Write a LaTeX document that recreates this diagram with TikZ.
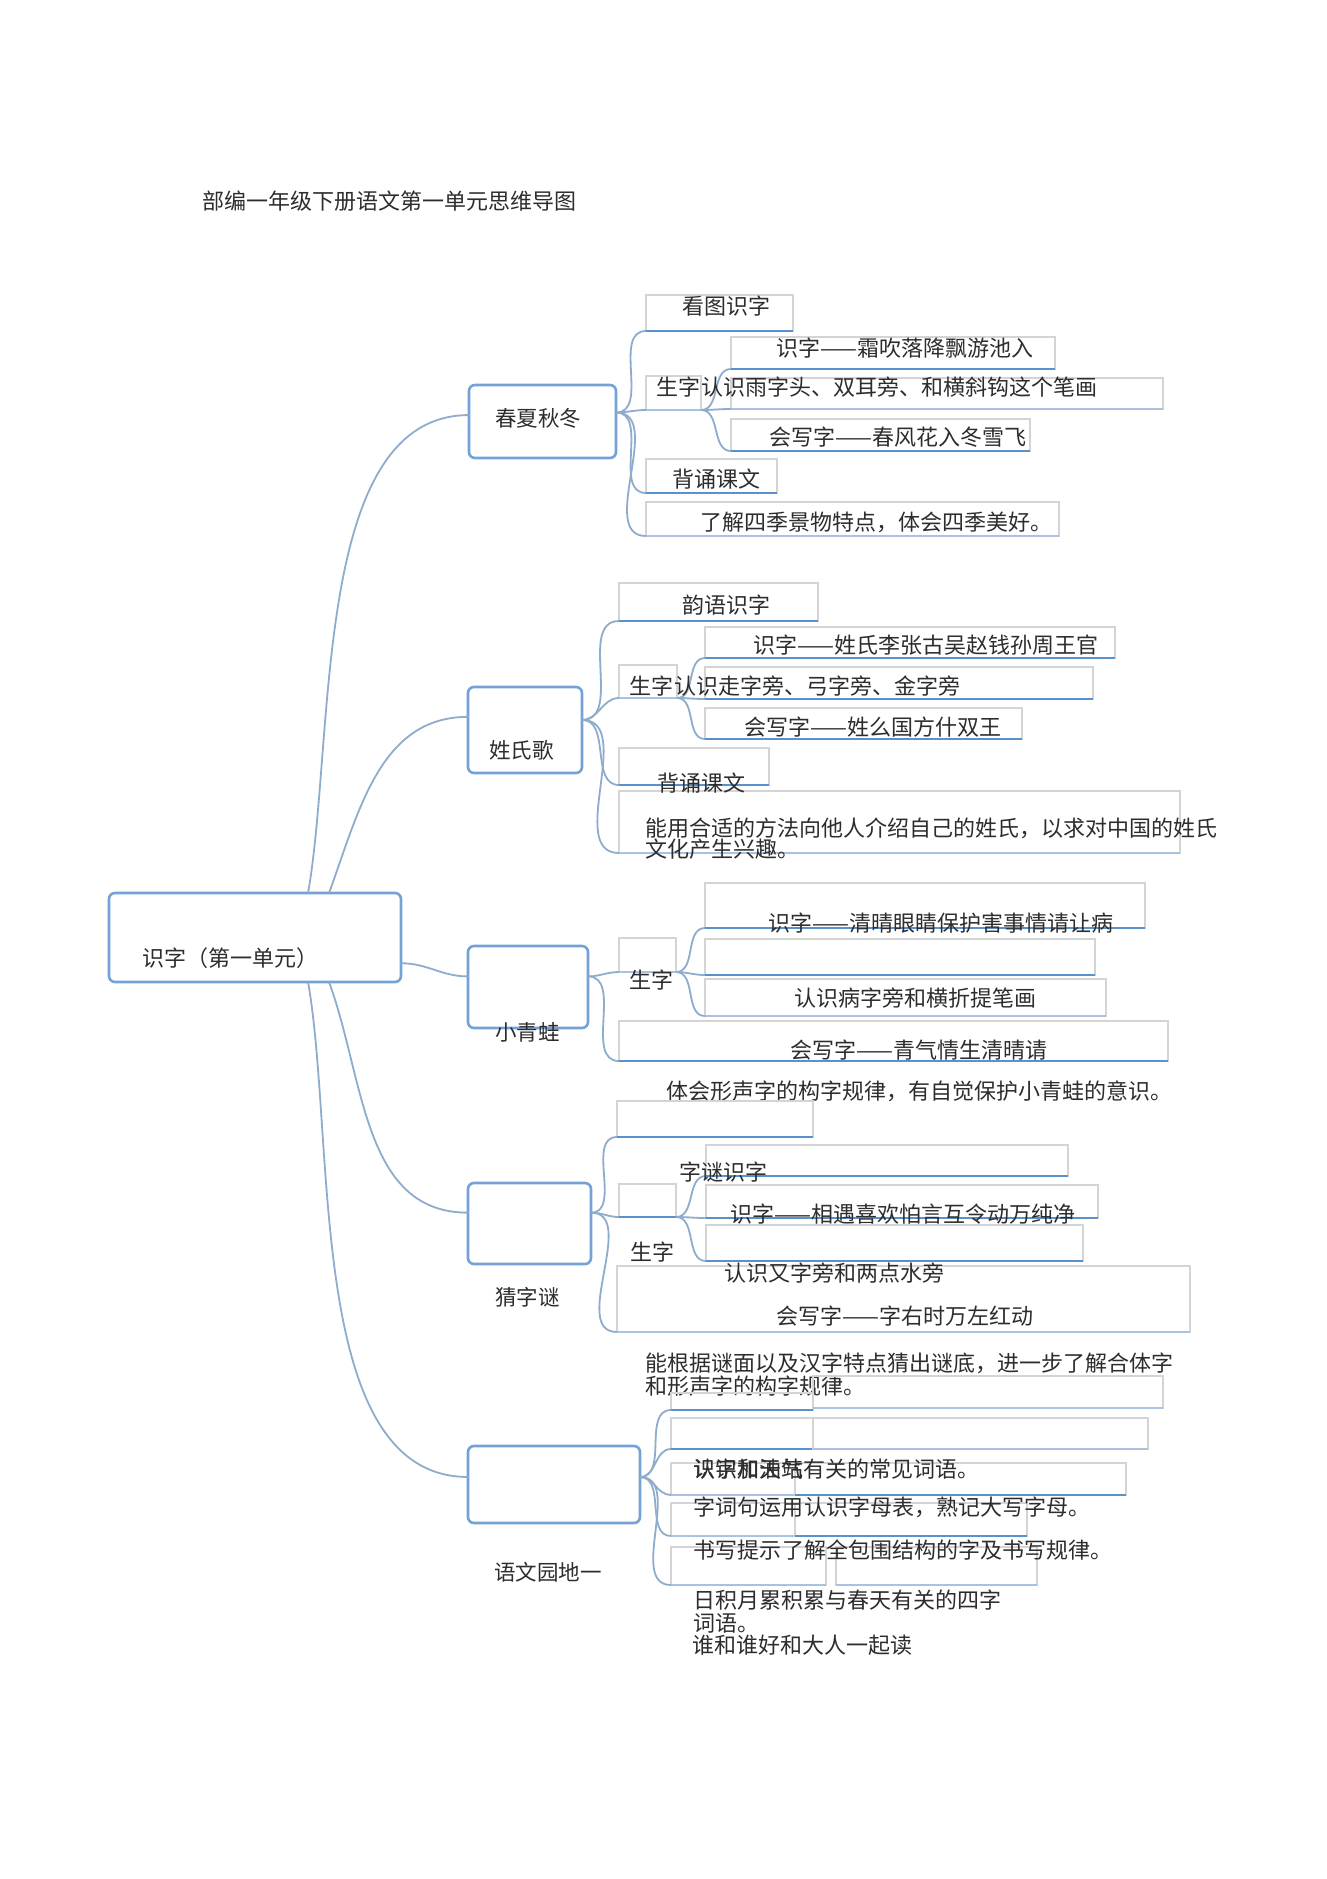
\documentclass[tikz,border=0pt]{standalone}
\usepackage{fontspec}
\setmainfont{Noto Sans CJK SC}
\usetikzlibrary{positioning}
\definecolor{boxblue}{RGB}{116,162,214}
\definecolor{leafblue}{RGB}{88,145,204}
\definecolor{paleblue}{RGB}{168,195,226}
\definecolor{linkblue}{RGB}{142,172,204}
\definecolor{boxgray}{RGB}{212,212,212}
\definecolor{txtgray}{RGB}{45,45,45}
\tikzset{
  hub/.style={draw=boxblue, line width=1.3pt, rounded corners=3pt, inner sep=0pt, outer sep=0pt, anchor=north west},
  leaf/.style={draw=boxgray, line width=0.6pt, inner sep=0pt, outer sep=0pt, anchor=north west,
    append after command={(\tikzlastnode.south west) edge[#1] (\tikzlastnode.south east)}},
  leaf/.default=deepline,
  deepline/.style={draw=leafblue, line width=1.4pt},
  paleline/.style={draw=paleblue, line width=0.8pt},
  link/.style={draw=linkblue, line width=0.9pt},
  lbl/.style={inner sep=0pt, anchor=west, text=txtgray, align=left},
  txtA/.style={lbl, font=\fontsize{11}{10.5}\selectfont},
  txtE/.style={lbl, font=\fontsize{11}{10}\selectfont},
  txtD/.style={lbl, font=\fontsize{11}{11.5}\selectfont},
  hubtxt/.style={lbl, font=\fontsize{10.75}{11}\selectfont},
}
\begin{document}
\begin{tikzpicture}[x=0.5pt, y=-0.5pt]
  \def\hubat#1#2#3#4#5{\node[hub, minimum width={(#4-#2)*0.5pt}, minimum height={(#5-#3)*0.5pt}] (#1) at (#2,#3) {};}
  \def\leafat#1#2#3#4#5#6{\node[leaf=#1, minimum width={(#5-#3)*0.5pt}, minimum height={(#6-#4)*0.5pt}] (#2) at (#3,#4) {};}

  \fill[white] (0,0) rectangle (1327,1879);
  \useasboundingbox (0,0) rectangle (1327,1879);

  \node[lbl, font=\fontsize{11}{12}\selectfont] (title) at (202,201) {部编一年级下册语文第一单元思维导图};

  % centre and the five lessons
  \hubat{main}{109}{893}{401}{982}
  \hubat{cx}{469}{385}{616}{458}
  \hubat{xs}{468}{687}{582}{773}
  \hubat{xq}{468}{946}{588}{1028}
  \hubat{cz}{468}{1183}{591}{1264}
  \hubat{yw}{468}{1446}{640}{1523}

  \node[lbl, font=\fontsize{11}{11}\selectfont] (tmain) at (142,958) {识字（第一单元）};
  \node[hubtxt] (tcx) at (495,418) {春夏秋冬};
  \node[hubtxt] (txs) at (489,750) {姓氏歌};
  \node[hubtxt] (txq) at (495,1032) {小青蛙};
  \node[hubtxt] (tcz) at (495,1297) {猜字谜};
  \node[hubtxt] (tyw) at (494,1572) {语文园地一};

  \draw[link] (main.40) to[out=80,in=180,looseness=0.8] (cx.175);
  \draw[link] (main.31) to[out=70,in=180] (xs.167);
  \draw[link] (main.-10) to[out=0,in=180] (xq.170);
  \draw[link] (main.-31) to[out=-70,in=180] (cz.170);
  \draw[link] (main.-40) to[out=-80,in=180,looseness=0.8] (yw.175);

  % chun xia qiu dong
  \leafat{deepline}{a1}{646}{295}{793}{331}
  \leafat{deepline}{a2}{731}{337}{1055}{369}
  \leafat{paleline}{a3}{646}{376}{701}{410}
  \leafat{paleline}{a4}{731}{378}{1163}{409}
  \leafat{deepline}{a5}{731}{419}{1030}{451}
  \leafat{deepline}{a6}{646}{459}{777}{493}
  \leafat{paleline}{a7}{646}{502}{1059}{536}
  \foreach \t in {a1,a3,a6,a7} \draw[link] (cx.7) to[out=0,in=180] (\t.south west);
  \foreach \t in {a2,a4,a5} \draw[link] (a3.south east) to[out=0,in=180] (\t.south west);
  \node[txtA] (ta1) at (682,306) {看图识字};
  \node[txtA] (ta2) at (776,348) {识字——霜吹落降飘游池入};
  \node[txtA] (ta3) at (656,387) {生字};
  \node[txtA, right=0pt of ta3] (ta4) {认识雨字头、双耳旁、和横斜钩这个笔画};
  \node[txtA] (ta5) at (769,437) {会写字——春风花入冬雪飞};
  \node[txtA] (ta6) at (672,479) {背诵课文};
  \node[txtA] (ta7) at (700,522) {了解四季景物特点，体会四季美好。};

  % xing shi ge
  \leafat{deepline}{b1}{619}{583}{818}{621}
  \leafat{deepline}{b2}{705}{627}{1115}{658}
  \leafat{paleline}{b3}{619}{665}{677}{698}
  \leafat{deepline}{b4}{705}{667}{1093}{699}
  \leafat{deepline}{b5}{705}{708}{1022}{739}
  \leafat{deepline}{b6}{619}{748}{769}{785}
  \leafat{paleline}{b7}{619}{791}{1180}{853}
  \foreach \t in {b1,b3,b6,b7} \draw[link] (xs.10) to[out=0,in=180] (\t.south west);
  \foreach \t in {b2,b4,b5} \draw[link] (b3.south east) to[out=0,in=180] (\t.south west);
  \node[txtA] (tb1) at (682,605) {韵语识字};
  \node[txtA] (tb2) at (753,645) {识字——姓氏李张古吴赵钱孙周王官};
  \node[txtA] (tb3) at (629,686) {生字};
  \node[txtA, right=0pt of tb3] (tb4) {认识走字旁、弓字旁、金字旁};
  \node[txtA] (tb5) at (744,727) {会写字——姓么国方什双王};
  \node[txtA] (tb6) at (657,783) {背诵课文};
  \node[txtA] (tb7) at (645,838.5) {能用合适的方法向他人介绍自己的姓氏，以求对中国的姓氏\\文化产生兴趣。};

  % xiao qing wa
  \leafat{deepline}{c1}{705}{883}{1145}{928}
  \leafat{paleline}{c2}{619}{938}{676}{972}
  \leafat{deepline}{c3}{705}{939}{1095}{975}
  \leafat{paleline}{c4}{705}{979}{1106}{1016}
  \leafat{deepline}{c5}{619}{1021}{1168}{1061}
  \foreach \t in {c2,c5} \draw[link] (xq.10) to[out=0,in=180] (\t.south west);
  \foreach \t in {c1,c3,c4} \draw[link] (c2.south east) to[out=0,in=180] (\t.south west);
  \node[txtA] (tc1) at (768,923) {识字——清晴眼睛保护害事情请让病};
  \node[txtA] (tc2) at (629,980) {生字};
  \node[txtA] (tc4) at (794,998) {认识病字旁和横折提笔画};
  \node[txtA] (tc5) at (790,1050) {会写字——青气情生清晴请};
  \node[txtA] (tc6) at (666,1091) {体会形声字的构字规律，有自觉保护小青蛙的意识。};

  % cai zi mi
  \leafat{deepline}{d1}{617}{1101}{813}{1137}
  \leafat{deepline}{d2}{706}{1145}{1068}{1176}
  \leafat{deepline}{d3}{619}{1184}{676}{1217}
  \leafat{deepline}{d4}{706}{1185}{1098}{1218}
  \leafat{deepline}{d5}{706}{1225}{1083}{1261}
  \leafat{paleline}{d6}{617}{1266}{1190}{1332}
  \foreach \t in {d1,d3,d6} \draw[link] (cz.10) to[out=0,in=180] (\t.south west);
  \foreach \t in {d2,d4,d5} \draw[link] (d3.south east) to[out=0,in=180] (\t.south west);
  \node[txtA] (td2) at (679,1172) {字谜识字};
  \node[txtA] (td4) at (730,1214) {识字——相遇喜欢怕言互令动万纯净};
  \node[txtA] (td3) at (630,1252) {生字};
  \node[txtA] (td5) at (724,1273) {认识又字旁和两点水旁};
  \node[txtA] (td6) at (776,1316) {会写字——字右时万左红动};
  \node[txtE] (td7) at (645,1375) {能根据谜面以及汉字特点猜出谜底，进一步了解合体字\\和形声字的构字规律。};

  % yu wen yuan di yi
  \leafat{deepline}{e1a}{671}{1393}{813}{1410}
  \leafat{paleline}{e1b}{813}{1376}{1163}{1408}
  \leafat{deepline}{e2a}{671}{1418}{813}{1449}
  \leafat{paleline}{e2b}{813}{1418}{1148}{1449}
  \leafat{paleline}{e3a}{671}{1463}{795}{1495}
  \leafat{deepline}{e3b}{795}{1463}{1126}{1495}
  \leafat{paleline}{e4a}{671}{1503}{795}{1536}
  \leafat{deepline}{e4b}{795}{1503}{1027}{1536}
  \leafat{paleline}{e5a}{671}{1547}{826}{1585}
  \leafat{paleline}{e5b}{836}{1547}{1037}{1585}
  \foreach \t in {e1a,e2a,e3a,e4a,e5a} \draw[link] (yw.5) to[out=0,in=180] (\t.south west);
  \node[txtD] (te3a) at (693,1469) {识字加油站};
  \node[txtD] (te3b) at (693,1469) {认识和天气有关的常见词语。};
  \node[txtD] (te4a) at (693,1507) {字词句运用};
  \node[txtD, right=0pt of te4a] (te4b) {认识字母表，熟记大写字母。};
  \node[txtD] (te5a) at (693,1550) {书写提示};
  \node[txtD, right=0pt of te5a] (te5b) {了解全包围结构的字及书写规律。};
  \node[txtD] (te6) at (693,1611.5) {日积月累积累与春天有关的四字\\词语。};
  \node[txtD] (te7) at (692,1645) {谁和谁好和大人一起读};
\end{tikzpicture}
\end{document}
